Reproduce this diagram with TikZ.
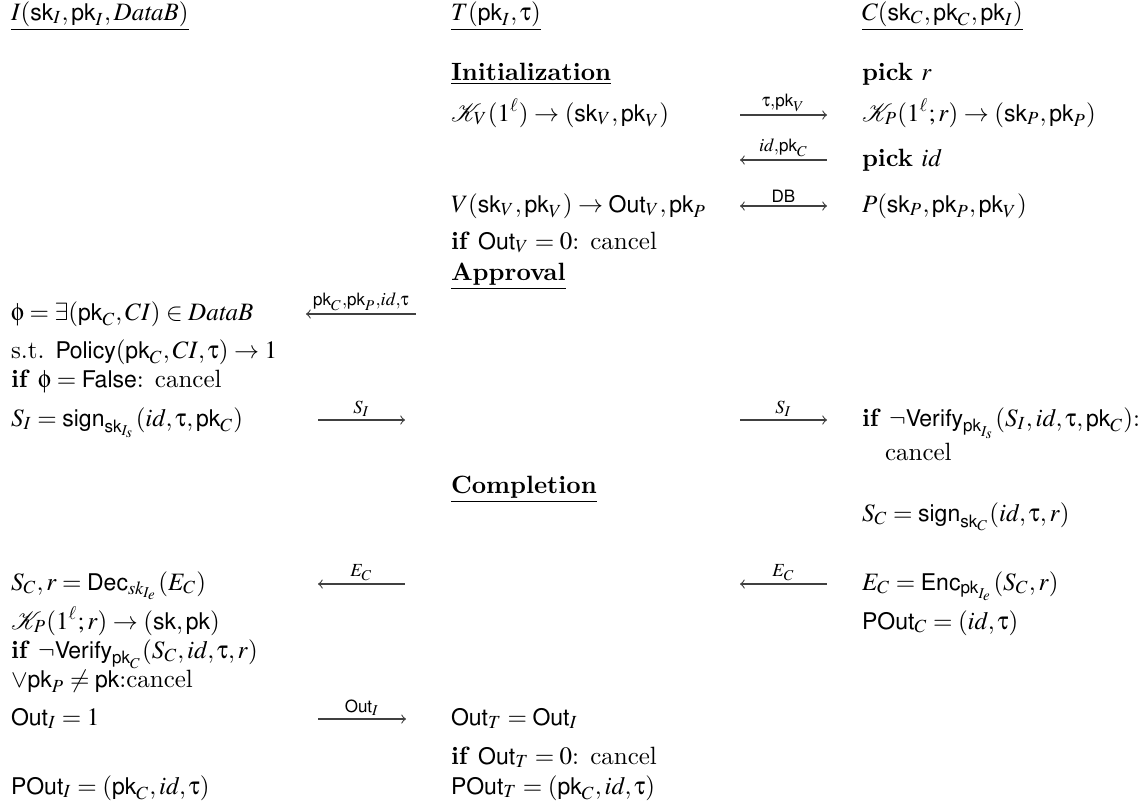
\documentclass[tikz,border=0pt]{standalone}
\usepackage{amsmath}
\usepackage{mathptmx}
\usepackage[scaled=0.92]{helvet}
\renewcommand{\rmdefault}{lmr}
\renewcommand{\sfdefault}{lmss}
\DeclareMathAlphabet{\mathsf}{OT1}{phv}{m}{n}
\DeclareMathAlphabet{\mathit}{OT1}{ptm}{m}{it}
\DeclareSymbolFont{ugreek}{U}{psy}{m}{n}
\DeclareMathSymbol{\utau}{\mathord}{ugreek}{`t}
\DeclareMathSymbol{\uphi}{\mathord}{ugreek}{`f}
\newcommand{\msk}{\mathsf{sk}}
\newcommand{\mpk}{\mathsf{pk}}
\newcommand{\mOut}{\mathsf{Out}}
\newcommand{\mPOut}{\mathsf{POut}}
\tikzset{
  txt/.style={anchor=base west, inner sep=0pt, outer sep=0pt},
  msg/.style={draw=black!75, line width=0.45pt},
  lbl/.style={inner sep=1.2pt, anchor=south},
}
\begin{document}
\begin{tikzpicture}[x=0.4pt,y=-0.4pt]
\useasboundingbox (0,0) rectangle (1144,803);
% headers
\node[txt] (hI) at (11,20) {$\underline{I(\msk_I,\mpk_I,\mathit{DataB})}$};
\node[txt] (hT) at (451,20) {$\underline{T(\mpk_I,\utau)}$};
\node[txt] (hC) at (862,20) {$\underline{C(\msk_C,\mpk_C,\mpk_I)}$};
% initialization
\node[txt] (init) at (451,80) {\underline{\textbf{Initialization}}};
\node[txt] (pickr) at (862,80) {\textbf{pick} $r$};
\node[txt] (KV) at (451,121) {$\mathcal{K}_V(1^\ell)\rightarrow(\msk_V,\mpk_V)$};
\node[txt] (KP) at (862,121) {$\mathcal{K}_P(1^\ell;r)\rightarrow(\msk_P,\mpk_P)$};
\node[txt] (pickid) at (862,166) {\textbf{pick} $\mathit{id}$};
\node[txt] (Vrow) at (451,212) {$V(\msk_V,\mpk_V)\rightarrow\mOut_V,\mpk_P$};
\node[txt] (Prow) at (862,212) {$P(\msk_P,\mpk_P,\mpk_V)$};
\node[txt] (ifV) at (451,249) {\textbf{if} $\mOut_V=0$: cancel};
\node[txt] (appr) at (451,280) {\underline{\textbf{Approval}}};
% approval
\node[txt] (phi) at (11,320) {$\uphi=\exists(\mpk_C,CI)\in\mathit{DataB}$};
\node[txt] (st) at (11,358) {s.t. $\mathsf{Policy}(\mpk_C,CI,\utau)\rightarrow 1$};
\node[txt] (iff) at (11,387) {\textbf{if} $\uphi=\mathsf{False}$: cancel};
\node[txt] (SI) at (11,426) {$S_I=\mathsf{sign}_{\msk_{I_s}}(\mathit{id},\utau,\mpk_C)$};
\node[txt] (ver) at (862,426) {\textbf{if} $\neg\mathsf{Verify}_{\mpk_{I_s}}(S_I,\mathit{id},\utau,\mpk_C)$:};
\node[txt] (cancel) at (885,460) {cancel};
% completion
\node[txt] (compl) at (451,493) {\underline{\textbf{Completion}}};
\node[txt] (SC) at (862,521) {$S_C=\mathsf{sign}_{\msk_C}(\mathit{id},\utau,r)$};
\node[txt] (SCr) at (11,590) {$S_C,r=\mathsf{Dec}_{sk_{I_e}}(E_C)$};
\node[txt] (EC) at (862,590) {$E_C=\mathsf{Enc}_{\mpk_{I_e}}(S_C,r)$};
\node[txt] (KP2) at (11,629) {$\mathcal{K}_P(1^\ell;r)\rightarrow(\msk,\mpk)$};
\node[txt] (POutC) at (862,629) {$\mPOut_C=(\mathit{id},\utau)$};
\node[txt] (ver2) at (11,658) {\textbf{if} $\neg\mathsf{Verify}_{\mpk_C}(S_C,\mathit{id},\utau,r)$};
\node[txt] (vee) at (11,687) {$\vee\mpk_P\neq\mpk$:cancel};
\node[txt] (OutI) at (11,725) {$\mOut_I=1$};
\node[txt] (OutT) at (451,725) {$\mOut_T=\mOut_I$};
\node[txt] (ifT) at (451,764) {\textbf{if} $\mOut_T=0$: cancel};
\node[txt] (POutI) at (11,794) {$\mPOut_I=(\mpk_C,\mathit{id},\utau)$};
\node[txt] (POutT) at (451,794) {$\mPOut_T=(\mpk_C,\mathit{id},\utau)$};
% message arrows
\coordinate (m1a) at (740,115); \coordinate (m1b) at (827,115);
\coordinate (m2a) at (740,160); \coordinate (m2b) at (827,160);
\coordinate (m3a) at (740,206); \coordinate (m3b) at (827,206);
\coordinate (m4a) at (306,314); \coordinate (m4b) at (416,314);
\coordinate (m5a) at (318,420); \coordinate (m5b) at (405,420);
\coordinate (m6a) at (740,420); \coordinate (m6b) at (827,420);
\coordinate (m7a) at (318,584); \coordinate (m7b) at (405,584);
\coordinate (m8a) at (740,584); \coordinate (m8b) at (827,584);
\coordinate (m9a) at (318,719); \coordinate (m9b) at (406,719);
\draw[msg,->] (m1a) -- node[lbl] {$\scriptstyle\utau,\mpk_V$} (m1b);
\draw[msg,<-] (m2a) -- node[lbl] {$\scriptstyle\mathit{id},\mpk_C$} (m2b);
\draw[msg,<->] (m3a) -- node[lbl] {$\scriptstyle\mathsf{DB}$} (m3b);
\draw[msg,<-] (m4a) -- node[lbl] {$\scriptstyle\mpk_C,\mpk_P,\mathit{id},\utau$} (m4b);
\draw[msg,->] (m5a) -- node[lbl] {$\scriptstyle S_I$} (m5b);
\draw[msg,->] (m6a) -- node[lbl] {$\scriptstyle S_I$} (m6b);
\draw[msg,<-] (m7a) -- node[lbl] {$\scriptstyle E_C$} (m7b);
\draw[msg,<-] (m8a) -- node[lbl] {$\scriptstyle E_C$} (m8b);
\draw[msg,->] (m9a) -- node[lbl] {$\scriptstyle\mOut_I$} (m9b);
\end{tikzpicture}
\end{document}
